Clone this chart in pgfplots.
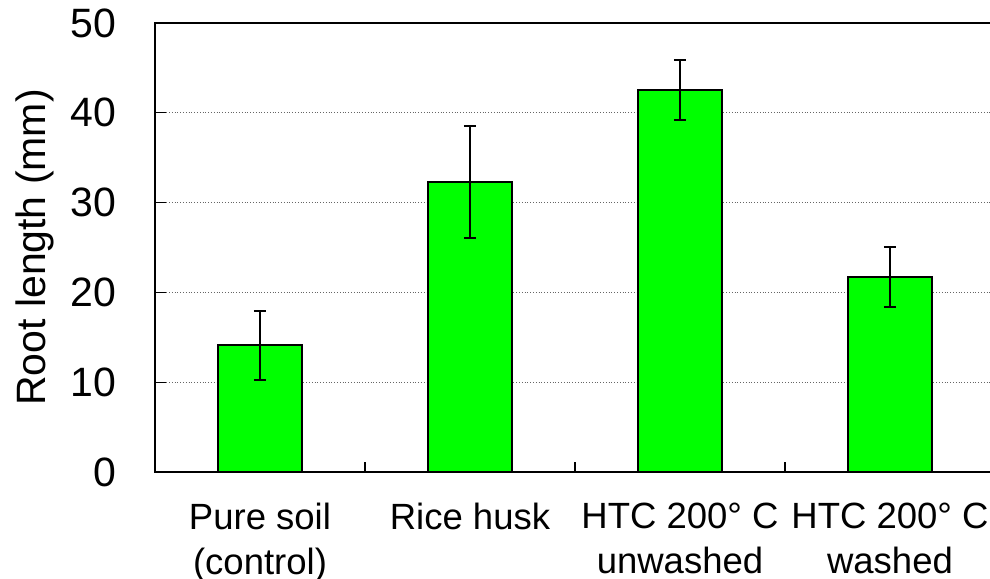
\documentclass[border=0pt]{standalone}
\usepackage{pgfplots}
\pgfplotsset{compat=1.18}
\usepackage{fontspec}
\setmainfont{Liberation Sans}
\begin{document}
\begin{tikzpicture}
\begin{axis}[name=ax, at={(0,0)}, anchor=south west,
  scale only axis, width=420pt, height=224.5pt,
  xmin=-0.5, xmax=3.5, ymin=0, ymax=50,
  ytick={0,10,20,30,40,50},
  xtick={0,1,2,3},
  xticklabels={{Pure soil\\(control)},{Rice husk},{HTC 200° C\\unwashed},{HTC 200° C\\washed}},
  minor xtick={-0.5,0.5,1.5,2.5,3.5},
  major x tick style={draw=none},
  minor x tick style={black, line width=0.6pt},
  x tick label style={align=center, font=\fontsize{18.25}{22.5}\selectfont, anchor=north, inner sep=0pt, yshift=-15.5pt},
  y tick label style={font=\fontsize{20.5}{24}\selectfont, anchor=east, inner sep=0pt, xshift=-19pt},
  /pgf/number format/assume math mode=true,
  major tick length=5.5pt, minor tick length=5pt,
  xtick pos=bottom, ytick pos=left,
  ytick style={black, line width=0.6pt},
  ymajorgrids, major grid style={densely dotted, black!60, line width=0.6pt},
  axis line style={line width=1pt},
  ylabel={Root length (mm)},
  ylabel style={font=\fontsize{20.5}{24}\selectfont, at={(axis description cs:-0.1429,0.5)}, anchor=center},
  tick align=inside, xtick align=inside, ytick align=inside,
]
\addplot[ybar, bar width=0.4, fill=green, draw=black, line width=1pt,
  error bars/.cd, y dir=both, y explicit,
  error bar style={line width=0.8pt, black},
  error mark options={rotate=90, mark size=3pt, line width=1pt, black}]
coordinates {
  (0,14.1) +- (0,3.85)
  (1,32.3) +- (0,6.2)
  (2,42.5) +- (0,3.35)
  (3,21.7) +- (0,3.3)
};
\end{axis}
\pgfresetboundingbox
\useasboundingbox ([xshift=-77.5pt,yshift=-53.5pt]ax.south west) rectangle ([xshift=-2.5pt,yshift=11.5pt]ax.north east);
\end{tikzpicture}
\end{document}
